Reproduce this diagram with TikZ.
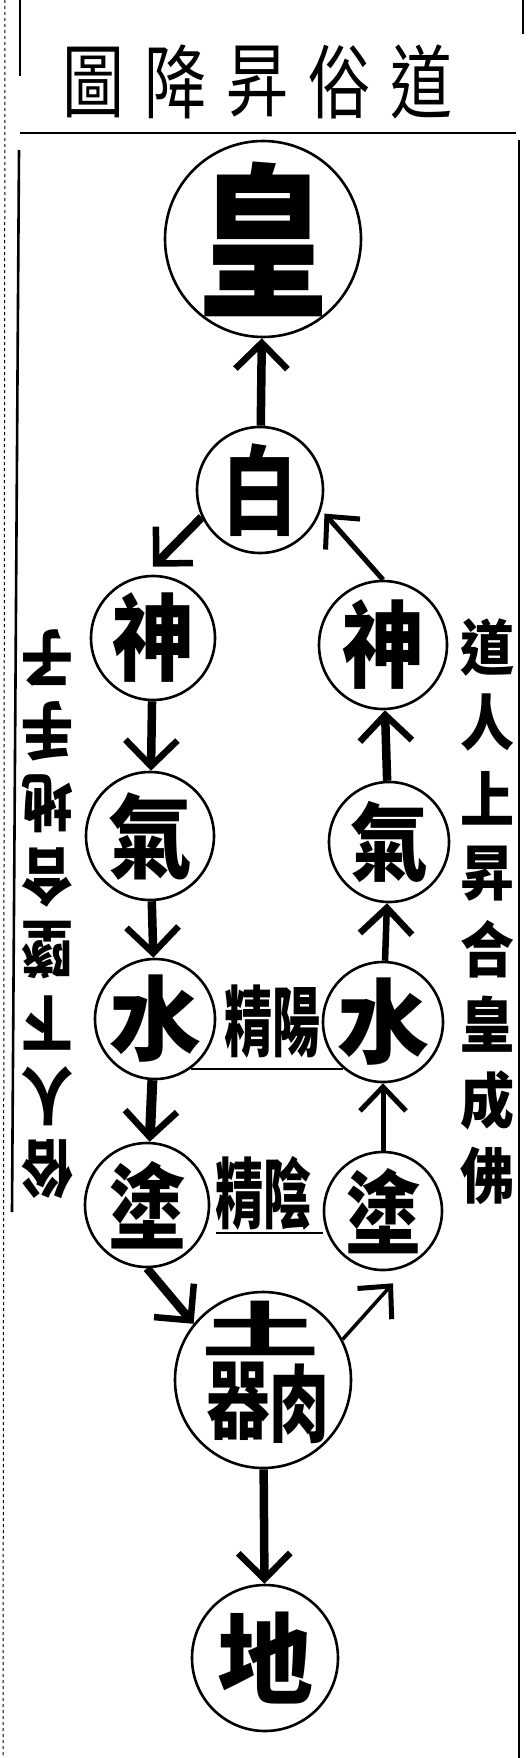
\documentclass[tikz,border=0pt]{standalone}
\usepackage{fontspec}
\usepackage{graphicx}
\usetikzlibrary{arrows.meta}
\newfontfamily\cjk{Noto Sans CJK TC}
\newcommand\zi[3]{\scalebox{1}[#2]{\fontsize{#1}{#1}\selectfont\cjk\bfseries #3}}
\newcommand\ziL[3]{\scalebox{1}[#2]{\fontsize{#1}{#1}\selectfont\cjk #3}}
\tikzset{
  ring/.style={draw, circle, line width=2.6pt, inner sep=0pt},
  arr/.style={line width=8.5pt, -{Straight Barb[length=26pt,width=52pt,line width=6.5pt]}},
  thinarr/.style={line width=5pt, -{Straight Barb[length=24pt,width=46pt,line width=5pt]}},
  rule/.style={line width=2.6pt}
}
\begin{document}
\begin{tikzpicture}[x=1pt,y=-1pt]
\useasboundingbox (0,0) rectangle (530,1758);
\draw [line width=1pt, dashed] (5,0) -- (3,1758);
\draw [rule] (20,0) -- (20,76);
\draw [rule] (19,150) -- (12,1212);
\draw [rule] (519,140) -- (519,1758);
\draw [rule] (523,0) -- (523,34);
\draw [rule] (20,133) -- (516,133);
\foreach \c [count=\i] in {圖,降,昇,俗,道}
	\node at ({93+82*(\i-1)},82) {\ziL{62}{1.3}{\c}};
\foreach \c [count=\i] in {道,人,上,昇,合,皇,成,佛}
	\node at (487,{647+75.5*(\i-1)}) {\zi{54}{1.12}{\c}};
\foreach \c [count=\i] in {子,手,地,合,墜,下,人,俗}
	\node [rotate=180] at (47,{658+73*(\i-1)}) {\zi{52}{1.2}{\c}};
\node [ring, minimum size=196pt, label={center:\zi{128}{1.3}{皇}}] (huang) at (263,239) {};
\node [ring, minimum size=126pt, label={center:\zi{75}{1.3}{白}}] (bai) at (260,490) {};
\node [ring, minimum size=124pt, label={center:\zi{82}{1.15}{神}}] (shenL) at (153,638) {};
\node [ring, minimum size=128pt, label={center:\zi{84}{1.1}{氣}}] (qiL) at (150,836) {};
\node [ring, minimum size=120pt, label={center:\zi{92}{1.0}{水}}] (shuiL) at (155,1019) {};
\node [ring, minimum size=124pt, label={center:\zi{78}{1.18}{塗}}] (tuL) at (147,1205) {};
\node [ring, minimum size=128pt, label={center:\zi{82}{1.15}{神}}] (shenR) at (383,645) {};
\node [ring, minimum size=120pt, label={center:\zi{78}{1.1}{氣}}] (qiR) at (389,842) {};
\node [ring, minimum size=120pt, label={center:\zi{92}{1.0}{水}}] (shuiR) at (383,1022) {};
\node [ring, minimum size=118pt, label={center:\zi{76}{1.18}{塗}}] (tuR) at (383,1211) {};
\node [ring, minimum size=176pt] (rou) at (263,1380) {};
\node at (260,1328) {\zi{118}{0.51}{土}};
\node at (238,1401) {\zi{64}{1.35}{器}};
\node at (299,1404) {\zi{60}{1.4}{肉}};
\node [ring, minimum size=146pt, label={center:\zi{96}{1.03}{地}}] (di) at (265,1658) {};
\node at (272,1022) {\zi{48}{1.6}{精陽}};
\node at (263,1193) {\zi{48}{1.6}{精陰}};
\coordinate (yin) at (216,1233);
\draw [line width=2pt] (shuiL.-54) -- (shuiL.-54 -| shuiR.-131);
\draw [line width=2pt] (yin) -- (yin -| tuR.west);
\draw [arr] (bai) -- (huang);
\draw [arr] (bai.205) -- ([yshift=8pt]shenL.north);
\draw [arr] (shenL) -- (qiL);
\draw [arr] (qiL) -- (shuiL);
\draw [arr, line width=10pt] (shuiL) -- (tuL);
\draw [arr] (tuL.south) -- (rou.141);
\draw [arr] (rou) -- (di);
\draw [thinarr, line width=3.5pt] (rou.27) -- ([shift={(10,12)}]tuR.south);
\draw [thinarr] (tuR) -- (shuiR);
\draw [arr, line width=6.5pt] (shuiR) -- (qiR);
\draw [arr] (qiR) -- (shenR);
\draw [thinarr, shorten >=5pt] (shenR.north) -- (bai.-18);
\end{tikzpicture}
\end{document}
